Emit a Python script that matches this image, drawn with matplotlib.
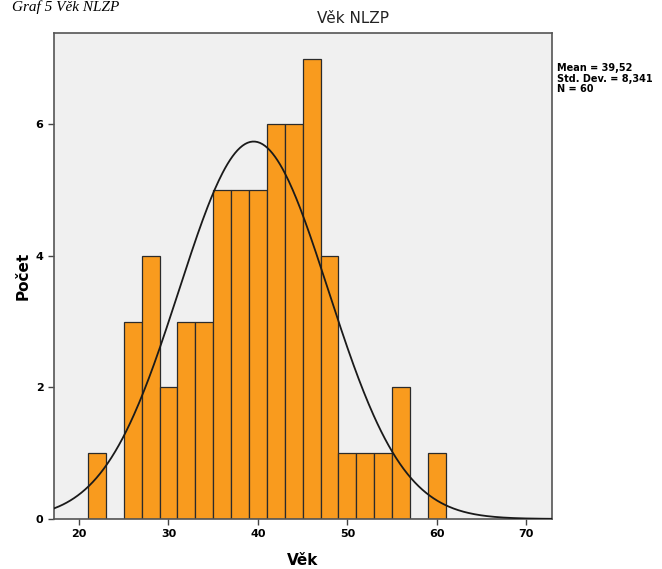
import numpy as np
import matplotlib.pyplot as plt

# histogram of age (bin width 2)
bin_left = [21, 23, 25, 27, 29, 31, 33, 35, 37, 39, 41, 43, 45, 47, 49, 51, 53, 55, 57, 59]
counts = [1, 0, 3, 4, 2, 3, 3, 5, 5, 5, 6, 6, 7, 4, 1, 1, 1, 2, 0, 1]
bin_width = 2
mean = 39.52
std = 8.341
n = 60

fig = plt.figure(figsize=(6.62, 5.69), dpi=100)
ax = fig.add_axes([0.0816, 0.088, 0.7525, 0.854])
ax.set_facecolor('#f0f0f0')

ax.bar(bin_left, counts, width=bin_width, align='edge', color='#f99b1e',
       edgecolor='#2b2b2b', linewidth=0.9, zorder=2)

# normal curve scaled to counts
xs = np.linspace(17.2, 72.9, 400)
ys = n * bin_width / (std * np.sqrt(2 * np.pi)) * np.exp(-0.5 * ((xs - mean) / std) ** 2)
ax.plot(xs, ys, color='#1a1a1a', linewidth=1.3, zorder=3)

ax.set_xlim(17.2, 72.9)
ax.set_ylim(0, 7.39)
ax.set_xticks([20, 30, 40, 50, 60, 70])
ax.set_yticks([0, 2, 4, 6])
ax.tick_params(axis='both', direction='out', length=4, width=1, labelsize=8,
               top=False, right=False, color='#444444')
for lab in ax.get_xticklabels() + ax.get_yticklabels():
    lab.set_fontweight('bold')
for sp in ax.spines.values():
    sp.set_color('#555555')
    sp.set_linewidth(1.2)

ax.set_xlabel('Věk', fontsize=11, fontweight='bold', labelpad=10)
ax.set_ylabel('Počet', fontsize=11, fontweight='bold', labelpad=4)

fig.text(0.533, 0.968, 'Věk NLZP', ha='center', va='center', fontsize=11,
         color='#222222')
fig.text(0.018, 0.999, 'Graf 5 Věk NLZP', ha='left', va='top', fontsize=11,
         family='Liberation Serif', style='italic')
fig.text(0.841, 0.889, 'Mean = 39,52\nStd. Dev. = 8,341\nN = 60', ha='left',
         va='top', fontsize=7, fontweight='bold', linespacing=1.05)

fig.savefig('out.png', dpi=100)
